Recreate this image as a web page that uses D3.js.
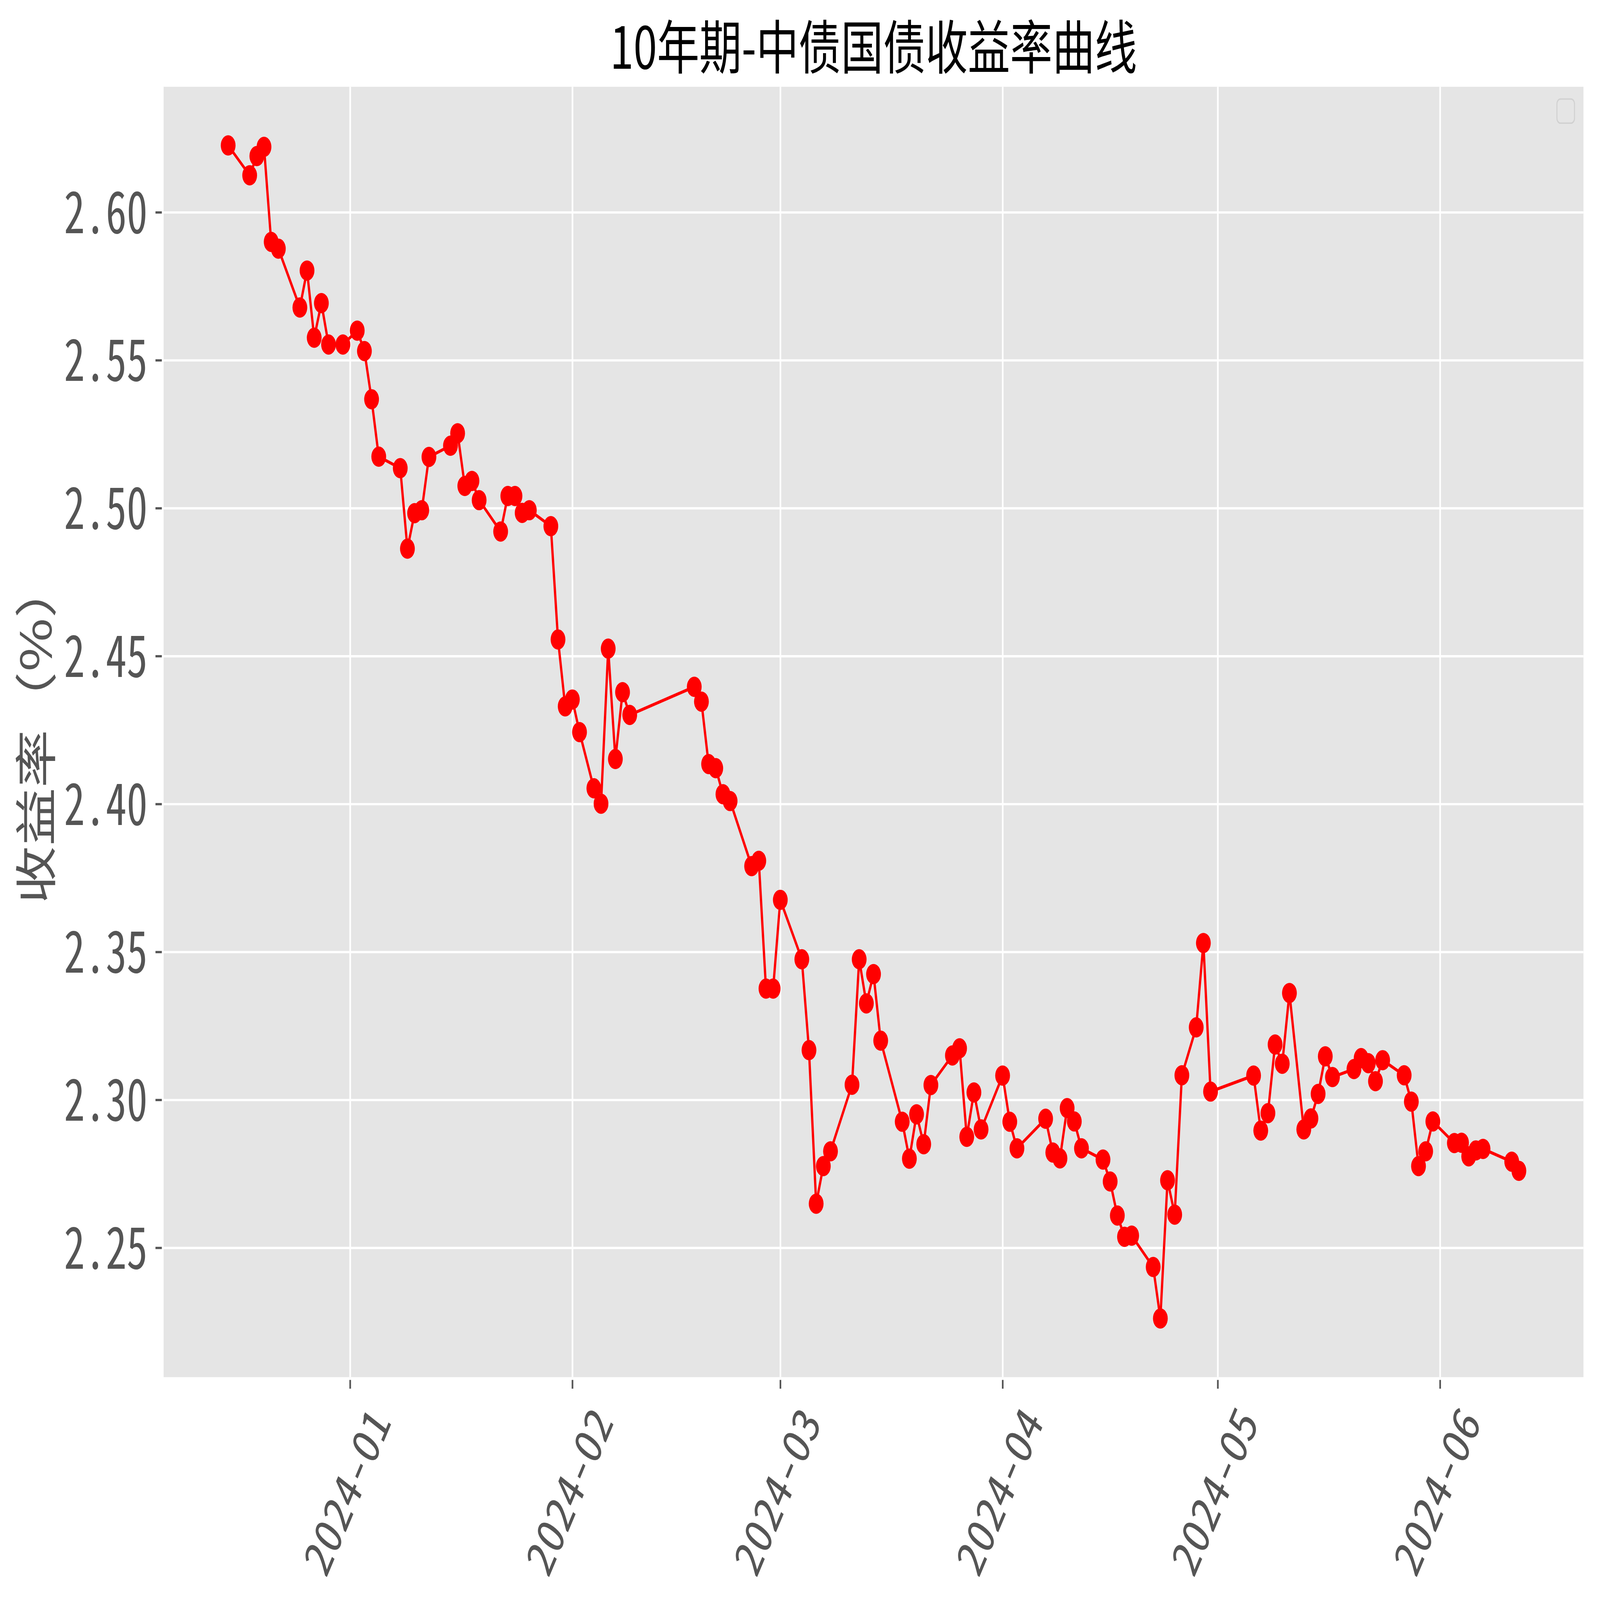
<!DOCTYPE html>
<html>
<head>
<meta charset="utf-8">
<script src="https://cdn.jsdelivr.net/npm/d3@7"></script>
<style>
  html, body { margin: 0; padding: 0; background: #fff; overflow: hidden; }
  #chart svg { display: block; width: 100vw; height: 100vh; }
  .tick-font { font-family: "Noto Sans Mono CJK SC", "Noto Sans CJK SC", "DejaVu Sans Mono", monospace; font-feature-settings: "hwid" 1; }
  .cjk-font { font-family: "Noto Sans CJK SC", "Noto Sans CJK JP", sans-serif; }
</style>
</head>
<body>
<div id="chart"></div>
<script>
// trading days and 10y yield (%)
const dates = [
  '2023-12-15','2023-12-18','2023-12-19','2023-12-20','2023-12-21','2023-12-22','2023-12-25','2023-12-26','2023-12-27','2023-12-28','2023-12-29','2023-12-31',
  '2024-01-02','2024-01-03','2024-01-04','2024-01-05','2024-01-08','2024-01-09','2024-01-10','2024-01-11','2024-01-12','2024-01-15','2024-01-16','2024-01-17','2024-01-18','2024-01-19','2024-01-22','2024-01-23','2024-01-24','2024-01-25','2024-01-26','2024-01-29','2024-01-30','2024-01-31',
  '2024-02-01','2024-02-02','2024-02-04','2024-02-05','2024-02-06','2024-02-07','2024-02-08','2024-02-09','2024-02-18','2024-02-19','2024-02-20','2024-02-21','2024-02-22','2024-02-23','2024-02-26','2024-02-27','2024-02-28','2024-02-29',
  '2024-03-01','2024-03-04','2024-03-05','2024-03-06','2024-03-07','2024-03-08','2024-03-11','2024-03-12','2024-03-13','2024-03-14','2024-03-15','2024-03-18','2024-03-19','2024-03-20','2024-03-21','2024-03-22','2024-03-25','2024-03-26','2024-03-27','2024-03-28','2024-03-29',
  '2024-04-01','2024-04-02','2024-04-03','2024-04-07','2024-04-08','2024-04-09','2024-04-10','2024-04-11','2024-04-12','2024-04-15','2024-04-16','2024-04-17','2024-04-18','2024-04-19','2024-04-22','2024-04-23','2024-04-24','2024-04-25','2024-04-26','2024-04-28','2024-04-29','2024-04-30',
  '2024-05-06','2024-05-07','2024-05-08','2024-05-09','2024-05-10','2024-05-11','2024-05-13','2024-05-14','2024-05-15','2024-05-16','2024-05-17','2024-05-20','2024-05-21','2024-05-22','2024-05-23','2024-05-24','2024-05-27','2024-05-28','2024-05-29','2024-05-30','2024-05-31',
  '2024-06-03','2024-06-04','2024-06-05','2024-06-06','2024-06-07','2024-06-11','2024-06-12'
];

const yields = [
  2.6226, 2.6125, 2.6190, 2.6221, 2.5900, 2.5877, 2.5678, 2.5803, 2.5576, 2.5693, 2.5553, 2.5553,
  2.5600, 2.5531, 2.5368, 2.5174, 2.5135, 2.4863, 2.4983, 2.4993, 2.5173, 2.5211, 2.5253, 2.5075, 2.5092, 2.5027, 2.4921, 2.5041, 2.5041, 2.4984, 2.4993, 2.4939, 2.4556, 2.4330,
  2.4353, 2.4243, 2.4053, 2.4001, 2.4525, 2.4152, 2.4378, 2.4301, 2.4396, 2.4346, 2.4135, 2.4121, 2.4033, 2.4010, 2.3790, 2.3808, 2.3376, 2.3376,
  2.3676, 2.3475, 2.3168, 2.2649, 2.2776, 2.2826, 2.3051, 2.3475, 2.3326, 2.3425, 2.3200, 2.2926, 2.2801, 2.2951, 2.2850, 2.3050, 2.3150, 2.3174, 2.2875, 2.3025, 2.2900,
  2.3082, 2.2926, 2.2836, 2.2936, 2.2822, 2.2802, 2.2972, 2.2927, 2.2836, 2.2798, 2.2724, 2.2609, 2.2537, 2.2541, 2.2435, 2.2261, 2.2728, 2.2612, 2.3083, 2.3245, 2.3530, 2.3028,
  2.3082, 2.2896, 2.2955, 2.3187, 2.3122, 2.3361, 2.2900, 2.2937, 2.3020, 2.3147, 2.3077, 2.3104, 2.3141, 2.3124, 2.3063, 2.3134, 2.3083, 2.2994, 2.2776, 2.2826, 2.2927,
  2.2854, 2.2855, 2.2809, 2.2829, 2.2834, 2.2791, 2.2760
];

const yTicks = [2.25, 2.30, 2.35, 2.40, 2.45, 2.50, 2.55, 2.60];
const xTicks = ['2024-01', '2024-02', '2024-03', '2024-04', '2024-05', '2024-06'];
const title = '10年期-中债国债收益率曲线';
const yTitle = '收益率（%）';

const w = 6278;
const h = 4573;
const margin = { top: 248, right: 65, bottom: 637, left: 642 };
const innerWidth = w - margin.left - margin.right;
const innerHeight = h - margin.top - margin.bottom;

const parseDay = d3.utcParse('%Y-%m-%d');
const parseMonth = d3.utcParse('%Y-%m');
const chartData = dates.map((d, i) => ({ date: parseDay(d), value: yields[i] }));

const date = d => d.date;
const value = d => d.value;

// matplotlib style 5% margins on both axes
const xExt = d3.extent(chartData, date);
const xPad = (xExt[1] - xExt[0]) * 0.05;
const xScale = d3.scaleUtc()
  .domain([new Date(+xExt[0] - xPad), new Date(+xExt[1] + xPad)])
  .range([0, innerWidth]);

const yExt = d3.extent(chartData, value);
const yPad = (yExt[1] - yExt[0]) * 0.05;
const yScale = d3.scaleLinear()
  .domain([yExt[0] - yPad, yExt[1] + yPad])
  .range([innerHeight, 0]);

const svg = d3.select('#chart')
  .append('svg')
  .attr('viewBox', '0 0 ' + w + ' ' + h)
  .attr('preserveAspectRatio', 'none');

svg.append('rect')
  .attr('width', w)
  .attr('height', h)
  .attr('fill', '#ffffff');

const g = svg.append('g')
  .attr('transform', 'translate(' + margin.left + ',' + margin.top + ')');

g.append('rect')
  .attr('width', innerWidth)
  .attr('height', innerHeight)
  .attr('fill', '#e5e5e5');

// grid
g.append('g')
  .call(d3.axisLeft(yScale).tickValues(yTicks).tickSize(-innerWidth).tickFormat(''))
  .call(s => s.select('.domain').remove())
  .selectAll('line')
  .attr('stroke', '#ffffff')
  .attr('stroke-width', 6.5);

g.append('g')
  .attr('transform', 'translate(0,' + innerHeight + ')')
  .call(d3.axisBottom(xScale).tickValues(xTicks.map(parseMonth)).tickSize(innerHeight).tickFormat(''))
  .call(s => s.select('.domain').remove())
  .selectAll('line')
  .attr('y2', -innerHeight)
  .attr('stroke', '#ffffff')
  .attr('stroke-width', 6.5);

// axes
const yAxis = g.append('g')
  .attr('transform', 'translate(-7,0)')
  .call(d3.axisLeft(yScale).tickValues(yTicks).tickSize(25).tickPadding(31).tickFormat(d3.format('.2f')));
yAxis.select('.domain').remove();
yAxis.selectAll('line').attr('stroke', '#555555').attr('stroke-width', 6.5);
yAxis.selectAll('text')
  .attr('class', 'tick-font')
  .attr('font-size', 164)
  .attr('fill', '#555555')
  .attr('dy', '0.36em');

const xAxis = g.append('g')
  .attr('transform', 'translate(0,' + (innerHeight + 8) + ')')
  .call(d3.axisBottom(xScale).tickValues(xTicks.map(parseMonth)).tickSize(25).tickFormat(d3.utcFormat('%Y-%m')));
xAxis.select('.domain').remove();
xAxis.selectAll('line').attr('stroke', '#555555').attr('stroke-width', 6.5);
xAxis.selectAll('text')
  .attr('class', 'tick-font')
  .attr('font-size', 148)
  .attr('fill', '#555555')
  .attr('x', 0)
  .attr('y', 0)
  .attr('dy', null)
  .attr('text-anchor', 'end')
  .attr('transform', 'translate(164,121) rotate(-60)');

// series
const line = d3.line()
  .x(d => xScale(date(d)))
  .y(d => yScale(value(d)));

g.append('path')
  .datum(chartData)
  .attr('d', line)
  .attr('fill', 'none')
  .attr('stroke', '#ff0000')
  .attr('stroke-width', 9)
  .attr('stroke-linejoin', 'round');

g.selectAll('circle')
  .data(chartData)
  .enter()
  .append('circle')
  .attr('cx', d => xScale(date(d)))
  .attr('cy', d => yScale(value(d)))
  .attr('r', 29)
  .attr('fill', '#ff0000');

// empty legend frame
g.append('rect')
  .attr('x', innerWidth - 104)
  .attr('y', 35)
  .attr('width', 69)
  .attr('height', 69)
  .attr('rx', 14)
  .attr('fill', '#e5e5e5')
  .attr('stroke', '#d1d1d1')
  .attr('stroke-width', 4);

// titles
svg.append('text')
  .attr('class', 'cjk-font')
  .attr('x', margin.left + innerWidth / 2)
  .attr('y', 197)
  .attr('text-anchor', 'middle')
  .attr('font-size', 166)
  .attr('fill', '#000000')
  .text(title);

svg.append('text')
  .attr('class', 'cjk-font')
  .attr('transform', 'translate(203,' + (margin.top + innerHeight / 2) + ') rotate(-90)')
  .attr('text-anchor', 'middle')
  .attr('font-size', 166)
  .attr('fill', '#555555')
  .text(yTitle);
</script>
</body>
</html>
